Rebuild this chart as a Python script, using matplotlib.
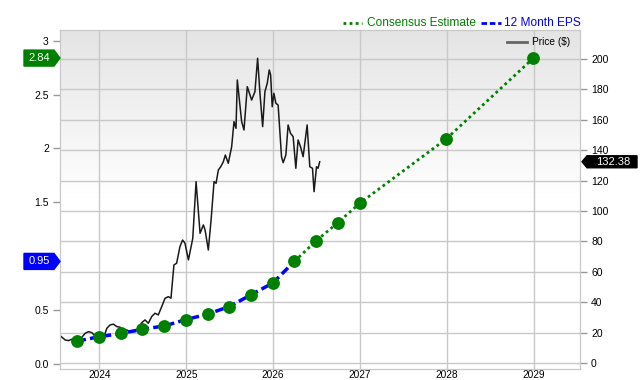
import numpy as np
import pandas as pd
import matplotlib
matplotlib.use('Agg')
import matplotlib.pyplot as plt
from matplotlib.patches import Polygon
from matplotlib.lines import Line2D

plt.rcParams['font.family'] = ['Liberation Sans', 'DejaVu Sans']

# quarterly EPS (left axis)
eps_dates = ['2023-09-30', '2023-12-31', '2024-03-31', '2024-06-30', '2024-09-30', '2024-12-31',
             '2025-03-31', '2025-06-30', '2025-09-30', '2025-12-31', '2026-03-31']
eps_actual = [0.21, 0.25, 0.28, 0.32, 0.35, 0.41, 0.46, 0.53, 0.64, 0.75, 0.95]

# consensus estimates (left axis)
est_dates = ['2026-03-31', '2026-06-30', '2026-09-30', '2026-12-31', '2027-12-31', '2028-12-31']
eps_estimate = [0.95, 1.14, 1.31, 1.49, 2.09, 2.84]

# price (right axis), time in decimal years
price_year = [2023.559, 2023.605, 2023.643, 2023.682, 2023.720, 2023.778, 2023.835, 2023.873, 2023.912,
              2023.950, 2023.988, 2024.046, 2024.085, 2024.123, 2024.161, 2024.200, 2024.238, 2024.276,
              2024.315, 2024.353, 2024.410, 2024.448, 2024.487, 2024.525, 2024.563, 2024.602, 2024.640,
              2024.678, 2024.717, 2024.755, 2024.793, 2024.824, 2024.858, 2024.889, 2024.927, 2024.958,
              2024.985, 2025.023, 2025.073, 2025.111, 2025.157, 2025.195, 2025.215, 2025.252, 2025.284,
              2025.318, 2025.341, 2025.368, 2025.395, 2025.425, 2025.448, 2025.482, 2025.521, 2025.548,
              2025.571, 2025.586, 2025.636, 2025.663, 2025.701, 2025.751, 2025.789, 2025.820, 2025.847,
              2025.878, 2025.904, 2025.931, 2025.954, 2025.970, 2025.988, 2026.008, 2026.031, 2026.057,
              2026.096, 2026.115, 2026.146, 2026.172, 2026.200, 2026.230, 2026.261, 2026.287, 2026.315,
              2026.345, 2026.391, 2026.422, 2026.453, 2026.471, 2026.499, 2026.517, 2026.536]
price = [17.3, 15.1, 14.7, 15.6, 14.7, 15.6, 19.5, 20.6, 19.9,
         17.8, 15.1, 16.3, 22.8, 25.0, 25.5, 23.9, 23.5, 20.6,
         21.7, 20.6, 20.6, 22.8, 26.5, 28.3, 26.1, 30.5, 32.7,
         31.6, 37.0, 42.5, 43.6, 42.6, 64.5, 65.6, 76.5, 80.9,
         78.8, 67.8, 82.0, 119.3, 85.3, 90.8, 87.5, 74.3, 94.1,
         119.3, 118.2, 127.0, 129.1, 132.4, 136.8, 131.4, 142.3, 158.8,
         154.4, 186.2, 158.8, 153.3, 181.8, 173.0, 178.5, 200.5, 177.4,
         155.5, 178.5, 184.0, 192.8, 189.5, 168.6, 177.4, 170.9, 169.7,
         135.7, 131.8, 136.8, 156.6, 151.1, 148.9, 128.1, 146.7, 142.3,
         135.7, 156.6, 129.1, 128.1, 112.7, 129.1, 128.1, 132.38]

price_ticks = list(range(0, 201, 20))
eps_ticks = [0.0, 0.5, 1.5, 2, 2.5, 3]
eps_tick_labels = ['0.0', '0.5', '1.5', '2', '2.5', '3']
year_ticks = ['2024', '2025', '2026', '2027', '2028', '2029']


def year_to_date(y):
    y = np.asarray(y)
    base = pd.to_datetime(np.floor(y).astype(int).astype(str) + '-01-01')
    return base + pd.to_timedelta((y - np.floor(y)) * 365.25, unit='D')


grid_col = '#c8c8c8'
green = '#008000'
blue = '#0000ff'

fig = plt.figure(figsize=(6.4, 3.8), dpi=100)
ax = fig.add_axes([60 / 640, 11 / 380, 520 / 640, 339 / 380])
axl = ax.twinx()

# background gradient (grey at top, white lower down)
grad = np.linspace(0.895, 1.0, 200)
grad = np.concatenate([grad, np.ones(200)])[:, None]
ax.imshow(np.dstack([grad, grad, grad]), extent=[0, 1, 0, 1], transform=ax.transAxes,
          aspect='auto', zorder=0, origin='upper')

# price on the right-hand scale
ax.plot(year_to_date(price_year), price, color='#1a1a1a', lw=1.1, zorder=3)
ax.set_ylim(-4.0, 219.1)
ax.set_xlim(pd.Timestamp('2023-07-19'), pd.Timestamp('2029-07-15'))
ax.yaxis.tick_right()
ax.set_yticks(price_ticks)
ax.set_yticklabels([str(t) for t in price_ticks])
ax.set_xticks(pd.to_datetime([y + '-01-01' for y in year_ticks]))
ax.set_xticklabels(year_ticks)
ax.grid(True, color=grid_col, lw=1.0)
ax.tick_params(axis='y', length=5, width=1, color='#999999', pad=3, labelsize=7.5)
ax.tick_params(axis='x', length=0, pad=0.5, labelsize=7.3)

# EPS on the left-hand scale
axl.yaxis.tick_left()
axl.set_ylim(-0.050, 3.101)
axl.set_yticks(eps_ticks)
axl.set_yticklabels(eps_tick_labels)
axl.tick_params(axis='y', length=5, width=1, color='#999999', pad=3, labelsize=7.5)
axl.plot(pd.to_datetime(est_dates), eps_estimate, color=green, lw=2, ls=(0, (1, 1.2)), zorder=4)
axl.plot(pd.to_datetime(eps_dates), eps_actual, color=blue, lw=2.5, ls=(0, (2.5, 1.2)), zorder=5)
axl.plot(pd.to_datetime(eps_dates + est_dates[1:]), eps_actual + eps_estimate[1:], ls='none',
         marker='o', ms=8.2, color=green, mec=green, zorder=6)

for a in (ax, axl):
    for s in a.spines.values():
        s.set_color(grid_col)

# value badges
ytr = axl.get_yaxis_transform()
for val, col in ((eps_estimate[-1], green), (eps_actual[-1], blue)):
    h = 8 / 107.7
    x0, x1, xt = -36 / 520, -6 / 520, 0.0
    axl.add_patch(Polygon([[x0, val - h], [x1, val - h], [xt, val], [x1, val + h], [x0, val + h]],
                          closed=True, transform=ytr, color=col, clip_on=False, zorder=10))
    axl.text((x0 + x1) / 2, val, f'{val:.2f}', transform=ytr, color='white', fontsize=8,
             ha='center', va='center', clip_on=False, zorder=11)

rtr = ax.get_yaxis_transform()
last = price[-1]
h = 6 / 1.52
x0, x1, xt = 1 + 7 / 520, 1 + 57 / 520, 1 + 2 / 520
ax.add_patch(Polygon([[xt, last], [x0, last - h], [x1, last - h], [x1, last + h], [x0, last + h]],
                     closed=True, transform=rtr, color='black', clip_on=False, zorder=10))
ax.text((x0 + x1) / 2 + 1 / 520, last, f'{last:.2f}', transform=rtr, color='white', fontsize=8,
        ha='center', va='center', clip_on=False, zorder=11)


# legend drawn by hand in pixel positions
def px(x, y):
    return x / 640, 1 - y / 380


fig.add_artist(Line2D([px(343, 0)[0], px(362, 0)[0]], [px(0, 23)[1]] * 2, color=green, lw=2,
                      ls=(0, (1, 1.2))))
fig.text(*px(367, 23), 'Consensus Estimate', color=green, fontsize=8.6, va='center')
fig.add_artist(Line2D([px(481, 0)[0], px(501, 0)[0]], [px(0, 23)[1]] * 2, color=blue, lw=2,
                      ls=(0, (2, 1))))
fig.text(*px(504, 23), '12 Month EPS', color=blue, fontsize=8.6, va='center')
fig.add_artist(Line2D([px(507, 0)[0], px(527, 0)[0]], [px(0, 42)[1]] * 2, color='#666666', lw=2))
fig.text(*px(532, 42), 'Price ($)', color='black', fontsize=7.3, va='center')

fig.savefig('out.png', dpi=100)
